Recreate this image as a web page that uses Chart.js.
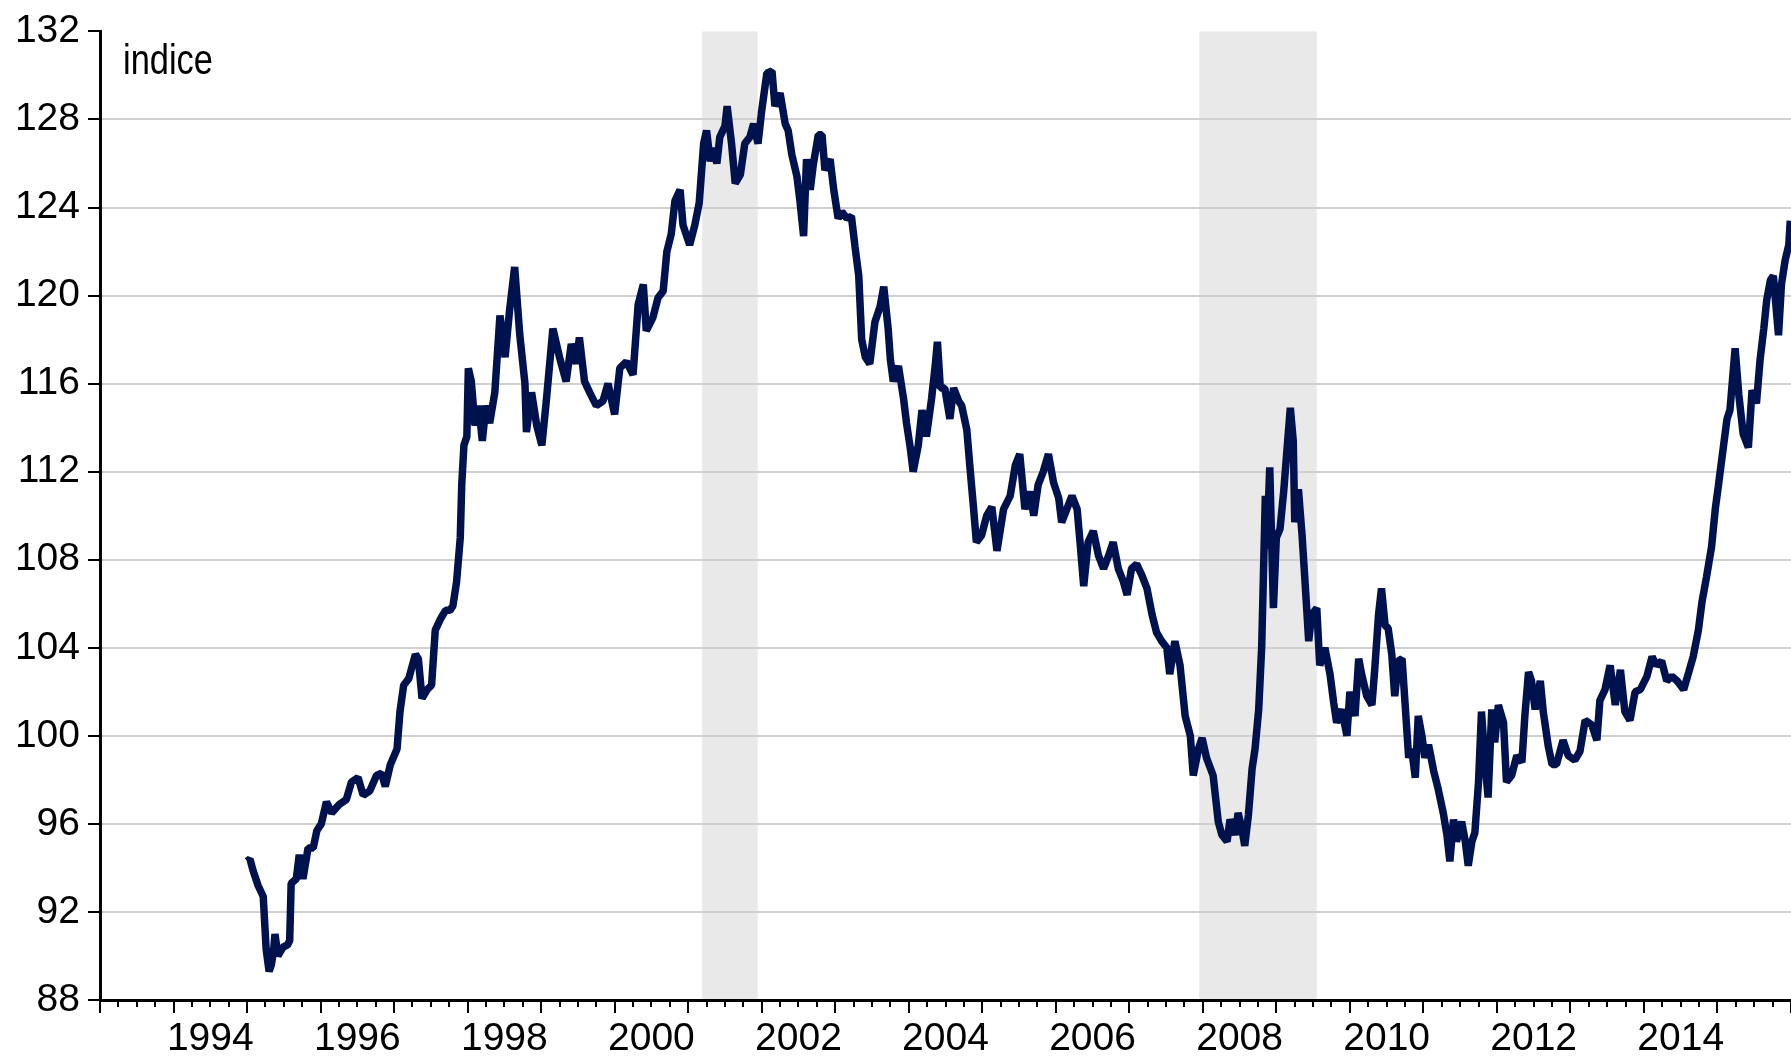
<!DOCTYPE html>
<html><head><meta charset="utf-8">
<script src="https://cdn.jsdelivr.net/npm/chart.js@4.4.1/dist/chart.umd.min.js"></script>
<style>html,body{margin:0;padding:0;background:#fff;}canvas{display:block;}</style>
</head><body>
<canvas id="c" width="1791" height="1057"></canvas>
<script>
// decimal-year dates of the index observations
const dates = [
1995.00,1995.04,1995.08,1995.15,1995.22,1995.26,1995.30,1995.33,1995.36,1995.38,1995.42,1995.49,1995.55,1995.58,1995.60,1995.67,1995.71,1995.76,1995.83,1995.90,1995.95,
1996.01,1996.08,1996.15,1996.26,1996.35,1996.42,1996.51,1996.58,1996.67,1996.76,1996.83,1996.88,1996.95,
1997.04,1997.08,1997.13,1997.20,1997.29,1997.33,1997.38,1997.45,1997.51,1997.56,1997.63,1997.70,1997.76,1997.80,1997.85,1997.90,1997.92,1997.95,1997.99,
1998.01,1998.05,1998.10,1998.15,1998.20,1998.25,1998.30,1998.37,1998.44,1998.51,1998.57,1998.64,1998.71,1998.78,1998.80,1998.87,1998.94,
1999.01,1999.07,1999.16,1999.25,1999.34,1999.41,1999.48,1999.52,1999.59,1999.66,1999.75,1999.84,1999.91,
2000.00,2000.07,2000.16,2000.25,2000.32,2000.39,2000.43,2000.52,2000.59,2000.66,2000.71,2000.77,2000.82,2000.89,2000.93,
2001.02,2001.09,2001.15,2001.21,2001.25,2001.30,2001.34,2001.39,2001.43,2001.50,2001.53,2001.59,2001.64,2001.71,2001.77,2001.84,2001.89,2001.95,
2002.00,2002.07,2002.14,2002.18,2002.25,2002.32,2002.36,2002.41,2002.48,2002.52,2002.57,2002.61,2002.66,2002.70,2002.77,2002.82,2002.86,2002.93,2002.98,
2003.04,2003.09,2003.16,2003.22,2003.27,2003.32,2003.36,2003.41,2003.47,2003.54,2003.61,2003.66,2003.72,2003.75,2003.79,2003.86,2003.93,2003.97,
2004.02,2004.06,2004.13,2004.18,2004.24,2004.31,2004.36,2004.39,2004.43,2004.49,2004.56,2004.61,2004.68,2004.72,2004.79,2004.83,2004.88,2004.92,2004.99,
2005.06,2005.13,2005.20,2005.29,2005.38,2005.45,2005.51,2005.58,2005.65,2005.70,2005.76,2005.83,2005.90,2005.97,
2006.04,2006.08,2006.15,2006.22,2006.29,2006.33,2006.38,2006.44,2006.51,2006.58,2006.65,2006.72,2006.78,2006.85,2006.92,2006.97,
2007.03,2007.10,2007.17,2007.24,2007.31,2007.37,2007.44,2007.51,2007.55,2007.62,2007.69,2007.76,2007.83,2007.87,2007.94,2007.99,
2008.05,2008.14,2008.21,2008.26,2008.33,2008.37,2008.44,2008.48,2008.53,2008.57,2008.62,2008.67,2008.71,2008.76,2008.80,2008.82,2008.85,2008.87,2008.91,2008.96,
2009.00,2009.05,2009.10,2009.14,2009.19,2009.23,2009.25,2009.30,2009.35,2009.39,2009.44,2009.48,2009.55,2009.59,2009.66,2009.73,2009.78,2009.82,2009.89,2009.96,
2010.00,2010.07,2010.12,2010.16,2010.23,2010.30,2010.34,2010.39,2010.43,2010.48,2010.52,2010.57,2010.61,2010.66,2010.71,2010.75,2010.80,2010.84,2010.89,2010.93,2010.98,
2011.02,2011.07,2011.14,2011.20,2011.27,2011.32,2011.36,2011.41,2011.45,2011.52,2011.57,2011.61,2011.66,2011.70,2011.75,2011.79,2011.84,2011.88,2011.93,2011.97,
2012.02,2012.09,2012.13,2012.20,2012.27,2012.34,2012.38,2012.43,2012.47,2012.52,2012.59,2012.63,2012.70,2012.75,2012.81,2012.90,2012.97,
2013.06,2013.13,2013.20,2013.29,2013.36,2013.40,2013.47,2013.54,2013.61,2013.68,2013.74,2013.81,2013.88,2013.95,
2014.04,2014.11,2014.17,2014.24,2014.31,2014.38,2014.45,2014.54,2014.61,2014.67,2014.74,2014.79,2014.85,2014.92,2014.97,
2015.01,2015.06,2015.13,2015.17,2015.24,2015.29,2015.35,2015.42,2015.47,2015.53,2015.58,2015.63,2015.67,2015.72,2015.76,2015.83,2015.87,2015.92,2015.97,2015.99
];
// index values
const values = [
94.3,94.4,93.9,93.2,92.7,90.3,89.3,89.6,90.2,91.0,90.0,90.4,90.5,90.7,93.3,93.5,94.6,93.5,94.9,94.9,95.7,
96.0,97.0,96.5,96.9,97.1,97.9,98.1,97.3,97.5,98.2,98.3,97.7,98.7,
99.4,101.1,102.3,102.6,103.7,103.5,101.7,102.1,102.3,104.8,105.3,105.7,105.7,105.9,107.0,109.0,111.4,113.2,113.6,
116.7,116.1,114.1,115.0,113.4,115.0,114.2,115.6,119.1,117.2,119.3,121.3,118.2,116.0,113.8,115.6,114.1,
113.2,115.2,118.5,117.2,116.1,117.8,116.9,118.1,116.1,115.6,115.0,115.2,116.0,
114.6,116.7,117.0,116.4,119.6,120.5,118.4,119.0,119.9,120.2,122.0,122.8,124.3,124.8,123.2,
122.3,123.2,124.2,126.9,127.5,126.1,126.7,126.0,127.2,127.7,128.6,126.9,125.1,125.5,126.9,127.2,127.8,126.9,
128.4,130.1,130.2,128.6,129.2,127.8,127.5,126.4,125.4,124.3,122.7,126.2,124.8,125.9,127.3,127.3,125.7,126.2,124.8,
123.5,123.8,123.5,123.6,122.2,120.9,118.0,117.2,116.9,118.8,119.5,120.4,118.5,117.1,116.1,116.8,115.3,114.2,
113.1,112.0,113.2,114.8,113.6,115.3,116.8,117.9,115.8,115.8,114.4,115.8,115.2,115.0,113.9,112.3,110.4,108.8,109.1,
110.0,110.4,108.4,110.3,110.9,112.3,112.8,110.3,111.1,110.0,111.4,112.0,112.8,111.5,
110.8,109.7,110.3,110.9,110.3,108.8,106.8,108.8,109.3,108.2,107.6,108.2,108.8,107.6,107.0,106.4,
107.6,107.8,107.3,106.7,105.5,104.7,104.3,104.0,102.8,104.3,103.2,100.9,100.0,98.2,99.4,99.9,
99.0,98.2,96.1,95.5,95.2,96.2,95.5,96.5,95.8,95.0,96.4,98.5,99.4,101.2,104.0,106.7,110.9,108.5,112.2,105.8,
109.0,109.4,111.1,112.8,114.9,113.4,109.7,111.2,109.1,107.0,104.3,105.5,105.8,103.2,104.0,102.8,101.5,100.6,101.2,100.0,
102.0,100.9,103.5,102.8,101.8,101.4,103.1,105.5,106.7,105.0,104.9,103.7,101.8,103.4,103.5,101.5,99.0,99.4,98.1,100.9,100.0,
99.0,99.6,98.4,97.6,96.5,95.5,94.3,96.2,95.2,96.1,95.2,94.1,95.2,95.6,97.9,101.1,98.7,97.2,101.2,99.7,
101.4,100.6,97.9,98.2,99.1,98.8,100.9,102.9,102.5,101.2,102.5,101.1,99.5,98.7,98.7,99.8,99.1,
98.9,99.3,100.7,100.5,99.8,101.6,102.1,103.2,101.4,103.0,101.1,100.7,102.0,102.1,
102.7,103.6,103.2,103.4,102.5,102.7,102.5,102.1,102.9,103.6,104.8,106.1,107.2,108.6,110.3,
111.3,112.6,114.4,114.8,117.6,115.5,113.7,113.1,115.7,115.1,117.1,118.5,119.8,120.7,120.9,118.2,120.5,121.6,122.3,123.4
];
const yTicks = [88,92,96,100,104,108,112,116,120,124,128,132];
const xLabelYears = [1994,1996,1998,2000,2002,2004,2006,2008,2010,2012,2014];
const recessionStarts = [2001.19, 2007.95];
const recessionEnds = [2001.945, 2009.55];
const unitLabel = 'indice';

const FONT = '"Liberation Sans", Arial, Helvetica, sans-serif';

const shadePlugin = {
  id: 'shade',
  beforeDraw(chart) {
    const {ctx, chartArea, scales} = chart;
    ctx.save();
    ctx.fillStyle = '#e9e9e9';
    for (let i = 0; i < recessionStarts.length; i++) {
      const x1 = scales.x.getPixelForValue(recessionStarts[i]);
      const x2 = scales.x.getPixelForValue(recessionEnds[i]);
      ctx.fillRect(x1, chartArea.top, x2 - x1, chartArea.bottom - chartArea.top);
    }
    ctx.restore();
  }
};

const decoPlugin = {
  id: 'deco',
  afterDraw(chart) {
    const {ctx, chartArea, scales} = chart;
    const xs = scales.x;
    ctx.save();
    ctx.strokeStyle = '#000';
    ctx.lineWidth = 2;
    const nQ = Math.round((xs.max - xs.min) * 4);
    for (let k = 0; k <= nQ; k++) {
      const v = xs.min + k / 4;
      const x = Math.round(xs.getPixelForValue(v));
      const len = (k % 4 === 0) ? 13 : 7;
      ctx.beginPath();
      ctx.moveTo(x, chartArea.bottom);
      ctx.lineTo(x, chartArea.bottom + len);
      ctx.stroke();
    }
    // unit label
    ctx.fillStyle = '#000';
    ctx.font = '42px ' + FONT;
    ctx.textBaseline = 'alphabetic';
    ctx.textAlign = 'left';
    const w = ctx.measureText(unitLabel).width;
    ctx.translate(123, 74);
    ctx.scale(90 / w, 1);
    ctx.fillText(unitLabel, 0, 0);
    ctx.restore();
  }
};

new Chart(document.getElementById('c'), {
  type: 'line',
  data: {
    datasets: [{
      data: dates.map((d, i) => ({x: d, y: values[i]})),
      borderColor: '#00124e',
      borderWidth: 7.5,
      pointRadius: 0,
      tension: 0,
      fill: false,
      borderJoinStyle: 'bevel',
      borderCapStyle: 'butt'
    }]
  },
  options: {
    responsive: false,
    animation: false,
    devicePixelRatio: 1,
    layout: {padding: {top: 30, left: 0, right: 0, bottom: 0}},
    plugins: {legend: {display: false}, tooltip: {enabled: false}},
    scales: {
      x: {
        type: 'linear',
        min: 1993,
        max: 2016,
        afterBuildTicks: (s) => { s.ticks = xLabelYears.map(y => ({value: y + 0.5})); },
        afterFit: (s) => { s.height = 57; },
        ticks: {
          autoSkip: false,
          maxRotation: 0,
          padding: 16,
          color: '#000',
          font: {family: FONT, size: 39},
          callback: (v) => String(Math.floor(v))
        },
        grid: {display: false, drawTicks: false},
        border: {display: true, color: '#000', width: 3}
      },
      y: {
        type: 'linear',
        min: 88,
        max: 132,
        afterBuildTicks: (s) => { s.ticks = yTicks.map(v => ({value: v})); },
        afterFit: (s) => { s.width = 100; },
        ticks: {
          padding: 8,
          color: '#000',
          font: {family: FONT, size: 39}
        },
        grid: {
          color: (c) => (c.tick && (c.tick.value === 132 || c.tick.value === 88)) ? 'rgba(0,0,0,0)' : '#d0d0d0',
          lineWidth: 2,
          drawTicks: true,
          tickLength: 12,
          tickColor: '#000',
          tickWidth: 2
        },
        border: {display: true, color: '#000', width: 3}
      }
    }
  },
  plugins: [shadePlugin, decoPlugin]
});
</script>
</body></html>
